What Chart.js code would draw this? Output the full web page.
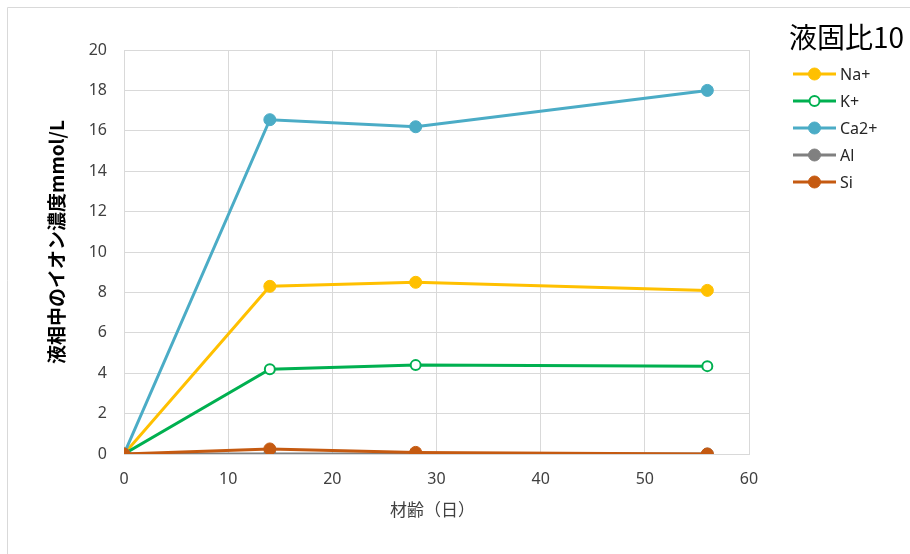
<!DOCTYPE html>
<html>
<head>
<meta charset="utf-8">
<script src="https://cdn.jsdelivr.net/npm/chart.js@4.4.0/dist/chart.umd.min.js"></script>
<style>
  html, body { margin: 0; padding: 0; background: #fff; }
  #wrap { position: relative; width: 910px; height: 554px; }
</style>
</head>
<body>
<div id="wrap"><canvas id="liquidChart" width="910" height="554"></canvas></div>
<script>
// 材齢（日）
const ages = [0, 14, 28, 56];

// 各イオン濃度 mmol/L
const naValues = [0, 8.3, 8.5, 8.1];
const kValues = [0, 4.2, 4.4, 4.35];
const caValues = [0, 16.55, 16.2, 18.0];
const alValues = [0, 0, 0, 0];
const siValues = [0, 0.25, 0.08, 0];

const seriesNames = ['Na+', 'K+', 'Ca2+', 'Al', 'Si'];
const seriesColors = ['#FFC000', '#00B050', '#4BACC6', '#808080', '#C55A11'];

const chartTitle = '液固比10';
const xTitle = '材齢（日）';
const yTitle = '液相中のイオン濃度mmol/L';

const CJK = '"Noto Sans CJK JP", "Noto Sans", sans-serif';
const TICK_FONT = '"Noto Sans", "Open Sans", sans-serif';

function toPoints(values) {
    return ages.map((x, i) => ({ x: x, y: values[i] }));
}

function makeDataset(idx, values, hollow) {
    return {
        label: seriesNames[idx],
        data: toPoints(values),
        borderColor: seriesColors[idx],
        backgroundColor: hollow ? '#FFFFFF' : seriesColors[idx],
        pointBackgroundColor: hollow ? '#FFFFFF' : seriesColors[idx],
        pointBorderColor: seriesColors[idx],
        pointBorderWidth: hollow ? 2 : 1,
        pointRadius: hollow ? 5 : 6,
        borderWidth: 3,
        tension: 0,
        order: 5 - idx
    };
}

/**
 * Frame, axis titles and the right-hand legend
 */
const decorPlugin = {
    id: 'decor',
    beforeDraw(chart) {
        const ctx = chart.ctx;
        ctx.save();
        ctx.strokeStyle = '#D9D9D9';
        ctx.lineWidth = 1;
        ctx.beginPath();
        ctx.moveTo(7.5, 554);
        ctx.lineTo(7.5, 7.5);
        ctx.lineTo(910, 7.5);
        ctx.stroke();
        ctx.restore();
    },
    afterDraw(chart) {
        const ctx = chart.ctx;
        const area = chart.chartArea;
        ctx.save();

        // y axis title
        ctx.fillStyle = '#000';
        ctx.font = 'bold 19px ' + CJK;
        ctx.textAlign = 'center';
        ctx.textBaseline = 'middle';
        ctx.translate(57, (area.top + area.bottom) / 2 - 10);
        ctx.rotate(-Math.PI / 2);
        ctx.fillText(yTitle, 0, 0);
        ctx.setTransform(1, 0, 0, 1, 0, 0);

        // x axis title
        ctx.fillStyle = '#404040';
        ctx.font = '17px ' + CJK;
        ctx.fillText(xTitle, (area.left + area.right) / 2 - 4, 510);

        // legend title
        ctx.fillStyle = '#000';
        ctx.font = '28px ' + CJK;
        ctx.textAlign = 'left';
        ctx.fillText(chartTitle, 789, 37);

        // legend items
        ctx.font = '16px ' + TICK_FONT;
        chart.data.datasets.forEach((ds, i) => {
            const y = 74 + i * 27;
            ctx.strokeStyle = ds.borderColor;
            ctx.lineWidth = 3;
            ctx.beginPath();
            ctx.moveTo(793, y);
            ctx.lineTo(836, y);
            ctx.stroke();
            ctx.beginPath();
            ctx.arc(814.5, y, ds.pointRadius, 0, Math.PI * 2);
            ctx.fillStyle = ds.pointBackgroundColor;
            ctx.fill();
            ctx.lineWidth = ds.pointBorderWidth;
            ctx.stroke();
            ctx.fillStyle = '#262626';
            ctx.fillText(ds.label, 840, y + 1);
        });
        ctx.restore();
    }
};

const ctx = document.getElementById('liquidChart').getContext('2d');

new Chart(ctx, {
    type: 'line',
    data: {
        datasets: [
            makeDataset(0, naValues, false),
            makeDataset(1, kValues, true),
            makeDataset(2, caValues, false),
            makeDataset(3, alValues, false),
            makeDataset(4, siValues, false)
        ]
    },
    options: {
        responsive: false,
        animation: false,
        layout: {
            padding: { left: 0, right: 161, top: 50, bottom: 0 }
        },
        plugins: {
            legend: { display: false },
            tooltip: { enabled: false }
        },
        scales: {
            x: {
                type: 'linear',
                min: 0,
                max: 60,
                ticks: {
                    stepSize: 10,
                    color: '#404040',
                    padding: 16,
                    font: { family: TICK_FONT, size: 16 }
                },
                grid: { color: '#D9D9D9', drawTicks: false },
                border: { color: '#D9D9D9' },
                afterFit(scale) { scale.height = 100; }
            },
            y: {
                min: 0,
                max: 20,
                ticks: {
                    stepSize: 2,
                    color: '#404040',
                    padding: 17,
                    font: { family: TICK_FONT, size: 16 }
                },
                grid: { color: '#D9D9D9', drawTicks: false },
                border: { color: '#D9D9D9' },
                afterFit(scale) { scale.width = 124; }
            }
        }
    },
    plugins: [decorPlugin]
});
</script>
</body>
</html>
